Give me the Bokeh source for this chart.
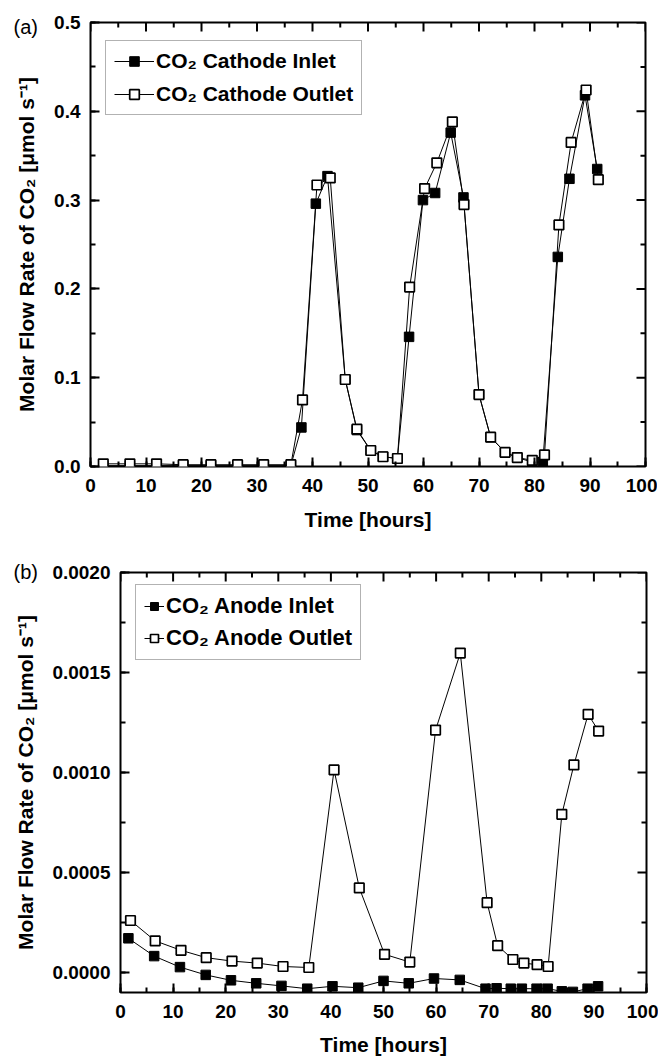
import math
from bokeh.plotting import figure
from bokeh.models import SingleIntervalTicker, PrintfTickFormatter, Range1d, Legend, LegendItem
from bokeh.embed import file_html
from bokeh.resources import INLINE

# ---------------- data: panel (a) cathode ----------------
t_cath_out = [2.3, 7.1, 11.9, 16.7, 21.7, 26.5, 31.2, 36.1, 38.2, 40.8, 43.2, 45.9, 48.0,
              50.5, 52.7, 55.3, 57.5, 60.2, 62.4, 65.2, 67.3, 70.0, 72.1, 74.7, 76.9,
              79.6, 81.8, 84.4, 86.6, 89.3, 91.5]
co2_cath_out = [0.003, 0.003, 0.003, 0.002, 0.002, 0.002, 0.002, 0.002, 0.075, 0.317, 0.325,
                0.098, 0.042, 0.018, 0.011, 0.009, 0.202, 0.313, 0.342, 0.388, 0.295, 0.081,
                0.033, 0.016, 0.010, 0.007, 0.013, 0.272, 0.365, 0.424, 0.323]
t_cath_in = [2.3, 7.1, 11.9, 16.7, 21.7, 26.5, 31.2, 36.1, 38.0, 40.6, 42.7, 45.9, 48.0,
             50.5, 52.7, 55.3, 57.4, 59.9, 62.1, 64.9, 67.2, 70.0, 72.1, 74.7, 76.9,
             79.6, 81.5, 84.2, 86.3, 89.1, 91.3]
co2_cath_in = [0.001, 0.001, 0.001, 0.001, 0.001, 0.001, 0.001, 0.001, 0.044, 0.296, 0.327,
               0.098, 0.041, 0.018, 0.011, 0.009, 0.146, 0.300, 0.308, 0.376, 0.303, 0.081,
               0.033, 0.016, 0.010, 0.005, 0.005, 0.236, 0.324, 0.418, 0.335]

# ---------------- data: panel (b) anode ----------------
t_an_out = [1.9, 6.6, 11.5, 16.3, 21.2, 26.0, 30.9, 35.8, 40.6, 45.4, 50.2, 55.0, 59.9, 64.6,
            69.7, 71.7, 74.6, 76.7, 79.2, 81.3, 83.9, 86.2, 88.9, 90.9]
co2_an_out = [0.000260, 0.000158, 0.000111, 0.000074, 0.000057, 0.000047, 0.000030, 0.000025,
              0.001013, 0.000423, 0.000091, 0.000052, 0.001212, 0.001597, 0.000349, 0.000134,
              0.000065, 0.000047, 0.000039, 0.000030, 0.000791, 0.001038, 0.001291, 0.001207]
t_an_in = [1.5, 6.4, 11.3, 16.2, 21.0, 25.8, 30.6, 35.5, 40.3, 45.2, 50.0, 54.8, 59.6, 64.5,
           69.4, 71.5, 74.2, 76.3, 79.1, 81.2, 83.9, 86.0, 88.8, 90.8]
co2_an_in = [0.000171, 0.000082, 0.000027, -0.000012, -0.000039, -0.000054, -0.000067,
             -0.000081, -0.000069, -0.000076, -0.000042, -0.000054, -0.000030, -0.000037,
             -0.000081, -0.000079, -0.000081, -0.000081, -0.000081, -0.000081, -0.000094,
             -0.000097, -0.000081, -0.000069]

# ---------------- tick values ----------------
x_major = [0, 10, 20, 30, 40, 50, 60, 70, 80, 90, 100]
x_minor = [5, 15, 25, 35, 45, 55, 65, 75, 85, 95]
ya_major = [0.0, 0.1, 0.2, 0.3, 0.4, 0.5]
ya_minor = [0.05, 0.15, 0.25, 0.35, 0.45]
yb_major = [0.0, 0.0005, 0.0010, 0.0015, 0.0020]
yb_minor = [0.00025, 0.00075, 0.00125, 0.00175]

FONT = "Liberation Sans"
TICK_MAJ = 9
TICK_MIN = 5


def style_axis(ax):
    ax.axis_line_color = None
    ax.major_tick_in = TICK_MAJ
    ax.major_tick_out = 0
    ax.minor_tick_in = TICK_MIN
    ax.minor_tick_out = 0
    ax.major_tick_line_width = 2
    ax.minor_tick_line_width = 2
    ax.major_tick_line_color = "black"
    ax.minor_tick_line_color = "black"
    ax.major_label_text_font = FONT
    ax.major_label_text_font_style = "bold"
    ax.major_label_text_color = "black"
    ax.major_label_text_font_size = "19px"
    ax.axis_label_text_font = FONT
    ax.axis_label_text_font_style = "bold"
    ax.axis_label_text_color = "black"
    ax.axis_label_text_font_size = "21px"


def make_panel(tag, t_in, y_in, t_out, y_out, names, ymin, ymax, yint, yfmt, y_major, y_minor,
               left, fw, top, fh, bottom, xlab_so, xtitle_so, ylab_so, ytitle_so,
               legend_loc, leg_spacing, leg_pad, leg_font, glyph_w, tag_offset, tag_standoff):
    p = figure(frame_width=fw, frame_height=fh, output_backend="svg", toolbar_location=None,
               x_range=Range1d(0, 100), y_range=Range1d(ymin, ymax),
               min_border_left=left, min_border_right=12, min_border_top=top,
               min_border_bottom=bottom)
    p.grid.visible = False
    p.outline_line_color = "black"
    p.outline_line_width = 2
    p.background_fill_color = "white"
    p.border_fill_color = "white"

    p.xaxis.ticker = SingleIntervalTicker(interval=10, num_minor_ticks=2)
    p.yaxis.ticker = SingleIntervalTicker(interval=yint, num_minor_ticks=2)
    p.yaxis.formatter = PrintfTickFormatter(format=yfmt)
    for ax in p.xaxis + p.yaxis:
        style_axis(ax)
    p.xaxis.axis_label = "Time [hours]"
    p.yaxis.axis_label = "Molar Flow Rate of CO\u2082 [\u03bcmol s\u207b\u00b9]"
    p.xaxis.major_label_standoff = xlab_so
    p.xaxis.axis_label_standoff = xtitle_so
    p.yaxis.major_label_standoff = ylab_so
    p.yaxis.axis_label_standoff = ytitle_so

    # mirrored inward ticks on the top and right edges (outer half clipped by the frame)
    p.scatter(x_major, [ymax] * len(x_major), marker="dash", angle=math.pi / 2,
              size=2 * TICK_MAJ, line_color="black", line_width=2)
    p.scatter(x_minor, [ymax] * len(x_minor), marker="dash", angle=math.pi / 2,
              size=2 * TICK_MIN, line_color="black", line_width=2)
    p.scatter([100] * len(y_major), y_major, marker="dash",
              size=2 * TICK_MAJ, line_color="black", line_width=2)
    p.scatter([100] * len(y_minor), y_minor, marker="dash",
              size=2 * TICK_MIN, line_color="black", line_width=2)

    l_in = p.line(t_in, y_in, line_color="black", line_width=1)
    s_in = p.scatter(t_in, y_in, marker="square", size=9.5, fill_color="black",
                     line_color="black", line_width=1)
    l_out = p.line(t_out, y_out, line_color="black", line_width=1)
    s_out = p.scatter(t_out, y_out, marker="square", size=9.5, fill_color="white",
                      line_color="black", line_width=1.7)

    leg = Legend(items=[LegendItem(label=names[0], renderers=[l_in, s_in]),
                        LegendItem(label=names[1], renderers=[l_out, s_out])],
                 location=legend_loc)
    leg.label_text_font = FONT
    leg.label_text_font_style = "bold"
    leg.label_text_font_size = leg_font
    leg.label_text_color = "black"
    leg.border_line_color = "#666666"
    leg.border_line_width = 1
    leg.background_fill_alpha = 1
    leg.glyph_width = glyph_w
    leg.glyph_height = 24
    leg.label_height = 24
    leg.label_standoff = 2
    leg.spacing = leg_spacing
    leg.padding = leg_pad
    leg.margin = 0
    p.add_layout(leg, "center")

    # panel tag "(a)"/"(b)" as the figure title, pulled left of the frame
    p.title.text = tag
    p.title.align = "left"
    p.title.offset = tag_offset
    p.title.standoff = tag_standoff
    p.title.vertical_align = "bottom"
    p.title.text_font = FONT
    p.title.text_font_style = "normal"
    p.title.text_font_size = "20px"
    p.title.text_color = "black"
    return p


p1 = make_panel("(a)", t_cath_in, co2_cath_in, t_cath_out, co2_cath_out,
                ["CO\u2082 Cathode Inlet", "CO\u2082 Cathode Outlet"],
                0.0, 0.5, 0.1, "%.1f", ya_major, ya_minor,
                left=90, fw=555, top=22, fh=444, bottom=66,
                xlab_so=12, xtitle_so=13, ylab_so=10, ytitle_so=13,
                legend_loc=(15, 351), leg_spacing=9, leg_pad=8, leg_font="21px",
                glyph_w=40, tag_offset=-77, tag_standoff=-30)

p2 = make_panel("(b)", t_an_in, co2_an_in, t_an_out, co2_an_out,
                ["CO\u2082 Anode Inlet", "CO\u2082 Anode Outlet"],
                -0.0001, 0.0020, 0.0005, "%.4f", yb_major, yb_minor,
                left=120, fw=526, top=39, fh=420, bottom=66,
                xlab_so=12, xtitle_so=12, ylab_so=10, ytitle_so=12,
                legend_loc=(15, 332), leg_spacing=6, leg_pad=8, leg_font="22px",
                glyph_w=20, tag_offset=-107, tag_standoff=-21)

open("out.html", "w").write(file_html([p1, p2], INLINE))
